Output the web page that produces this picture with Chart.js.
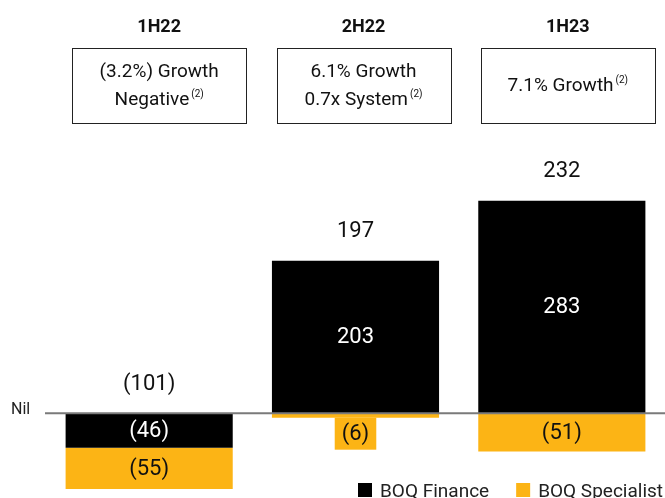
<!DOCTYPE html>
<html>
<head>
<meta charset="utf-8">
<script src="https://cdn.jsdelivr.net/npm/chart.js@4.4.0/dist/chart.umd.min.js"></script>
<style>
  html, body { margin: 0; padding: 0; background: #fff; }
  #wrap { width: 665px; height: 498px; position: relative; }
</style>
</head>
<body>
<div id="wrap"><canvas id="myChart"></canvas></div>
<script>
const periods = ['1H22', '2H22', '1H23'];
const finance = [-46, 203, 283];
const specialist = [-55, -6, -51];
const totals = [-101, 197, 232];
const growthText = [
    ['(3.2%) Growth', 'Negative'],
    ['6.1% Growth', '0.7x System'],
    ['7.1% Growth']
];
const seriesNames = ['BOQ Finance', 'BOQ Specialist'];

const BLACK = '#000000';
const ORANGE = '#fcb415';
const FONT = 'Roboto, "Liberation Sans", sans-serif';

function fmt(v) {
    return v < 0 ? '(' + Math.abs(v) + ')' : String(v);
}

const overlay = {
    id: 'overlay',
    afterDatasetsDraw(chart) {
        const ctx = chart.ctx;
        const x = chart.scales.x;
        const y = chart.scales.y;
        const area = chart.chartArea;
        const zero = y.getPixelForValue(0);

        ctx.save();
        // zero line
        ctx.strokeStyle = '#7a7a7a';
        ctx.lineWidth = 2;
        ctx.beginPath();
        ctx.moveTo(area.left - 1, zero);
        ctx.lineTo(chart.width, zero);
        ctx.stroke();

        ctx.fillStyle = '#222';
        ctx.font = '16px ' + FONT;
        ctx.textAlign = 'left';
        ctx.textBaseline = 'middle';
        ctx.fillText('Nil', 11, zero - 3);

        // values inside bars
        ctx.textAlign = 'center';
        ctx.font = '22px ' + FONT;
        chart.data.datasets.forEach((ds, di) => {
            const meta = chart.getDatasetMeta(di);
            meta.data.forEach((el, i) => {
                const h = Math.abs(el.base - el.y);
                const txt = fmt(ds.data[i]);
                if (h < 20) {
                    const top = Math.max(el.y, el.base);
                    const w = ctx.measureText(txt).width + 14;
                    ctx.fillStyle = ds.backgroundColor;
                    ctx.fillRect(el.x - w / 2, top, w, 32);
                    ctx.fillStyle = di === 0 ? '#fff' : '#111';
                    ctx.fillText(txt, el.x, top + 17);
                } else {
                    ctx.fillStyle = di === 0 ? '#fff' : '#111';
                    ctx.fillText(txt, el.x, (el.y + el.base) / 2 + 1);
                }
            });
        });

        // totals above
        ctx.fillStyle = '#111';
        totals.forEach((t, i) => {
            let top = zero;
            chart.data.datasets.forEach((ds, di) => {
                const el = chart.getDatasetMeta(di).data[i];
                if (ds.data[i] > 0) top = Math.min(top, el.y);
            });
            ctx.fillText(fmt(t), x.getPixelForValue(i), top - 29);
        });

        // headers and growth boxes
        const nudge = [10, 8, 6];
        periods.forEach((p, i) => {
            const cx = x.getPixelForValue(i) + nudge[i];
            ctx.fillStyle = '#111';
            ctx.font = 'bold 18px ' + FONT;
            ctx.textAlign = 'center';
            ctx.fillText(p, cx, 27);

            ctx.strokeStyle = '#222';
            ctx.lineWidth = 1;
            ctx.strokeRect(Math.round(cx - 87) + 0.5, 48.5, 174, 75);

            const lines = growthText[i];
            const ys = lines.length === 2 ? [72, 100] : [86];
            lines.forEach((ln, k) => {
                const last = k === lines.length - 1;
                ctx.font = '19px ' + FONT;
                const w = ctx.measureText(ln).width;
                let supW = 0;
                if (last) {
                    ctx.font = '10px ' + FONT;
                    supW = ctx.measureText('(2)').width + 2;
                }
                const sx = cx - (w + supW) / 2;
                ctx.font = '19px ' + FONT;
                ctx.textAlign = 'left';
                ctx.fillText(ln, sx, ys[k]);
                if (last) {
                    ctx.font = '10px ' + FONT;
                    ctx.fillText('(2)', sx + w + 2, ys[k] - 6);
                }
            });
        });

        // legend
        ctx.font = '19px ' + FONT;
        ctx.textAlign = 'left';
        ctx.textBaseline = 'alphabetic';
        const colors = [BLACK, ORANGE];
        let lx = 358;
        seriesNames.forEach((name, i) => {
            ctx.fillStyle = colors[i];
            ctx.fillRect(lx, 483, 14, 14);
            ctx.fillStyle = '#222';
            ctx.fillText(name, lx + 22, 497);
            lx += 22 + ctx.measureText(name).width + 27;
        });
        ctx.restore();
    }
};

const ctx = document.getElementById('myChart');
const myChart = new Chart(ctx, { // eslint-disable-line
    type: 'bar',
    data: {
        labels: periods,
        datasets: [{
            label: seriesNames[0],
            data: finance,
            backgroundColor: BLACK,
            borderWidth: 0
        }, {
            label: seriesNames[1],
            data: specialist,
            backgroundColor: ORANGE,
            borderWidth: 0
        }]
    },
    options: {
        responsive: true,
        maintainAspectRatio: false,
        animation: false,
        layout: {
            padding: { top: 188, left: 46, right: 0, bottom: 0 }
        },
        datasets: {
            bar: { barPercentage: 0.81, categoryPercentage: 1.0 }
        },
        scales: {
            x: { display: false, stacked: true },
            y: { display: false, stacked: true, min: -113, max: 300 }
        },
        plugins: {
            legend: { display: false },
            tooltip: { enabled: false }
        }
    },
    plugins: [overlay]
});
</script>
</body>
</html>
